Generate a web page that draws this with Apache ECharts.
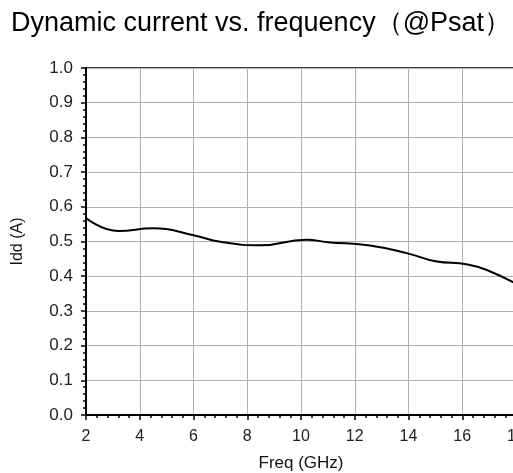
<!DOCTYPE html>
<html>
<head>
<meta charset="utf-8">
<script src="https://cdn.jsdelivr.net/npm/echarts@6/dist/echarts.min.js"></script>
<style>
  html, body { margin: 0; padding: 0; background: #fff; }
  #chart { width: 513px; height: 473px; }
</style>
</head>
<body>
<div id="chart"></div>
<script>
// 频率 (GHz)
const freqs = [2, 3.2, 4.5, 6, 7, 8.5, 10.2, 11, 12.5, 14, 15, 16.2, 17, 18];
// Idd (A)
const idd = [0.568, 0.530, 0.538, 0.518, 0.499, 0.489, 0.505, 0.498, 0.489, 0.465, 0.443, 0.434, 0.415, 0.378];

const points = freqs.map((f, i) => [f, idd[i]]);

let chart = echarts.init(document.getElementById('chart'));
let option = {
  backgroundColor: '#fff',
  title: {
    text: 'Dynamic current vs. frequency（@Psat）',
    left: 6,
    top: 5,
    textStyle: {
      fontFamily: 'Liberation Sans, Arial, sans-serif',
      fontWeight: 'normal',
      fontSize: 27,
      color: '#000'
    }
  },
  grid: {
    left: 86,
    top: 68,
    bottom: 58,
    width: 430,
    outerBoundsMode: 'none',
    containLabel: false,
    show: true,
    borderColor: '#000',
    borderWidth: 1.5
  },
  xAxis: {
    type: 'value',
    min: 2,
    max: 18,
    interval: 2,
    name: 'Freq (GHz)',
    nameLocation: 'middle',
    nameGap: 40,
    nameTextStyle: {
      fontFamily: 'Liberation Sans, Arial, sans-serif',
      fontSize: 17,
      color: '#111'
    },
    axisLine: { lineStyle: { color: '#000', width: 2 } },
    axisTick: { length: 5, lineStyle: { color: '#000', width: 1.5 } },
    minorTick: { show: true, splitNumber: 5, length: 3, lineStyle: { color: '#000', width: 1.5 } },
    splitLine: { show: true, lineStyle: { color: '#b0b0b0', width: 1 } },
    axisLabel: {
      margin: 14,
      fontFamily: 'Liberation Sans, Arial, sans-serif',
      fontSize: 16,
      color: '#222'
    }
  },
  yAxis: {
    type: 'value',
    min: 0,
    max: 1,
    interval: 0.1,
    name: 'Idd (A)',
    nameLocation: 'middle',
    nameGap: 60,
    nameTextStyle: {
      fontFamily: 'Liberation Sans, Arial, sans-serif',
      fontSize: 16,
      color: '#111'
    },
    axisLine: { show: true, lineStyle: { color: '#000', width: 2 } },
    axisTick: { show: true, length: 5, lineStyle: { color: '#000', width: 1.5 } },
    minorTick: { show: true, splitNumber: 5, length: 3, lineStyle: { color: '#000', width: 1.5 } },
    splitLine: { show: true, lineStyle: { color: '#b0b0b0', width: 1 } },
    axisLabel: {
      margin: 13,
      formatter: (v) => v.toFixed(1),
      fontFamily: 'Liberation Sans, Arial, sans-serif',
      fontSize: 17,
      color: '#222'
    }
  },
  series: [
    {
      name: 'Idd',
      type: 'line',
      smooth: 0.5,
      showSymbol: false,
      lineStyle: { color: '#000', width: 2 },
      data: points
    }
  ],
  animation: false
};
chart.setOption(option);
</script>
</body>
</html>
